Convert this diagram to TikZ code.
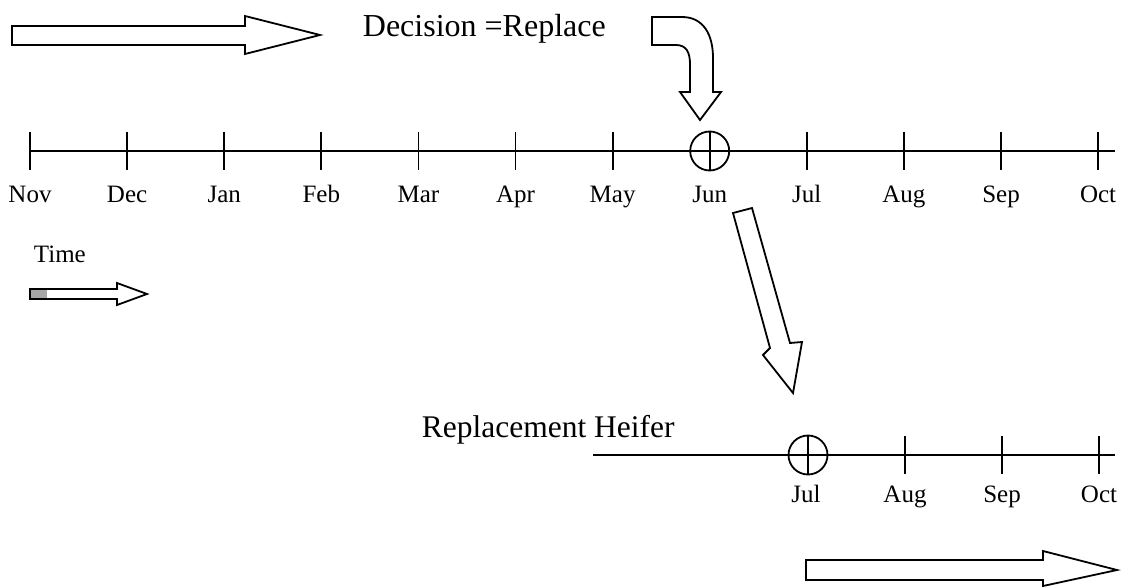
\documentclass[tikz,border=0pt]{standalone}
\usepackage{fontspec}
\setmainfont{Liberation Serif}
\begin{document}
\begin{tikzpicture}[x=1pt,y=-1pt,line width=1.8pt,line join=miter,
  month/.style={font=\fontsize{25}{30}\selectfont,anchor=base,inner sep=0pt},
  blockarrow/.style={draw,fill=white,line width=1.8pt},
  marker/.style={draw,circle,minimum size=39pt,inner sep=0pt,line width=1.8pt}]
\useasboundingbox (0,0) rectangle (1123,588);

% upper timeline
\draw (30,151) -- (1115,151);
\foreach \m [count=\i from 0] in {Nov,Dec,Jan,Feb,Mar,Apr,May,Jun,Jul,Aug,Sep,Oct} {
  \pgfmathsetmacro\xx{30+97.1*\i}
  \node[month] (top\m) at (\xx,202) {\m};
  \ifnum\i=7 \else \draw (\xx,132) -- (\xx,170); \fi
}
\node[marker] (decide) at (709.7,151) {};
\draw (decide.north) -- (decide.south);

% lower timeline
\draw (593,455) -- (1115,455);
\node[marker] (arrive) at (808,455) {};
\draw (arrive.north) -- (arrive.south);
\foreach \x in {905,1002,1099} \draw (\x,436) -- (\x,474);
\node[month] (lowJul) at (806,502) {Jul};
\node[month] (lowAug) at (905,502) {Aug};
\node[month] (lowSep) at (1002,502) {Sep};
\node[month] (lowOct) at (1099,502) {Oct};

% texts
\node[anchor=base west,inner sep=0pt,font=\fontsize{32}{38}\selectfont] (decision) at (362,37) {Decision =Replace};
\node[anchor=base west,inner sep=0pt,font=\fontsize{31.5}{37}\selectfont] (heifer) at (421,437) {Replacement Heifer};
\node[anchor=base west,inner sep=0pt,font=\fontsize{25}{30}\selectfont] (time) at (33,262) {Time};

% block arrows
\draw[blockarrow] (12,26) -- (245,26) -- (245,16) -- (320,35) -- (245,54) -- (245,45) -- (12,45) -- cycle;
\draw[blockarrow] (806,560) -- (1043,560) -- (1043,551) -- (1117,570) -- (1043,586) -- (1043,580) -- (806,580) -- cycle;
\draw[blockarrow] (30,289) -- (117,289) -- (117,283) -- (147,294) -- (117,305) -- (117,299) -- (30,299) -- cycle;
\fill[gray!70] (31,290) rectangle (47,298);
\draw[blockarrow] (733,213) -- (752,208) -- (790,343) -- (802,342) -- (793,393) -- (763,355) -- (770,348) -- cycle;
\draw[blockarrow] (652,17) -- (682,17) .. controls (703,17) and (713,34) .. (713,58) -- (713,92) -- (721,92) -- (700,120) -- (680,92) -- (690,92) -- (690,64) .. controls (690,52) and (686,45) .. (676,45) -- (652,45) -- cycle;
\end{tikzpicture}
\end{document}
